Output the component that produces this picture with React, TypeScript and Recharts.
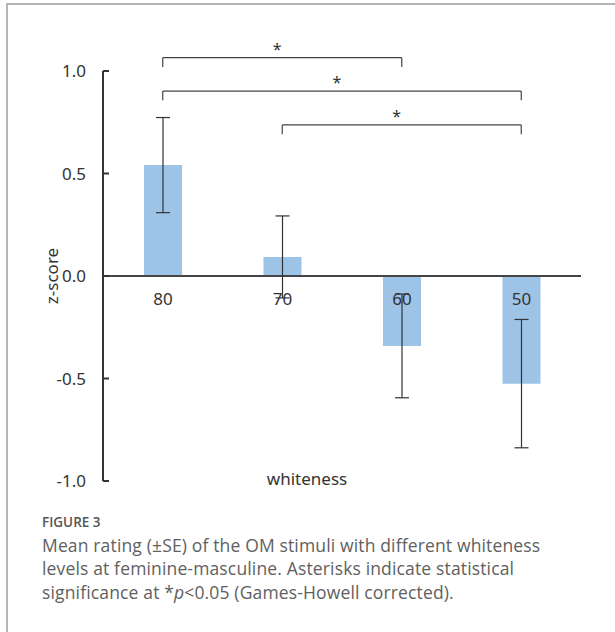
import { BarChart, Bar, XAxis, YAxis, ReferenceLine, ErrorBar, LabelList } from 'recharts'

const whiteness = ['80', '70', '60', '50']
const meanScores = [0.541, 0.093, -0.341, -0.525]
const standardErrors = [0.232, 0.2, 0.253, 0.313]
const yTicks = [-1, -0.5, 0, 0.5, 1]

// significance brackets: pair of groups and height (in z-score units)
const bracketFrom = ['80', '80', '70']
const bracketTo = ['60', '50', '50']
const bracketLevel = [1.065, 0.902, 0.737]
const bracketMark = ['*', '*', '*']

const data = whiteness.map((w, i) => ({
    whiteness: w,
    score: meanScores[i],
    se: standardErrors[i],
}))

const FONT = '"Noto Sans", sans-serif'
const LEG = 0.045

function BaselineLabel(props: any) {
    const vb = props.viewBox ?? props
    const { x, y, width, height } = vb
    const score = meanScores[props.index] ?? 0
    const base = score >= 0 ? Math.max(y, y + height) : Math.min(y, y + height)
    return (
        <text
            x={x + width / 2}
            y={base + 29}
            textAnchor="middle"
            fontSize={17}
            fill="#333"
            fontFamily={FONT}
        >
            {props.value}
        </text>
    )
}

export default function App() {
    return (
        <div
            style={{
                position: 'absolute',
                left: 0,
                top: 0,
                width: 615,
                height: 632,
                background: '#fff',
                overflow: 'hidden',
            }}
        >
            <div
                style={{
                    position: 'absolute',
                    left: 6,
                    top: 3,
                    width: 620,
                    height: 640,
                    borderTop: '2px solid #b4b4b4',
                    borderLeft: '2px solid #b4b4b4',
                }}
            />
            <div style={{ position: 'absolute', left: 0, top: 0 }}>
                <BarChart
                    width={615}
                    height={500}
                    data={data}
                    margin={{ top: 71, right: 34, left: 0, bottom: 0 }}
                    barSize={38}
                >
                    <XAxis
                        dataKey="whiteness"
                        height={19}
                        axisLine={false}
                        tickLine={false}
                        tick={false}
                        label={{
                            value: 'whiteness',
                            position: 'insideTop',
                            offset: -8,
                            dx: -35,
                            fontSize: 17,
                            fill: '#333',
                            fontFamily: FONT,
                        }}
                    />
                    <YAxis
                        width={103}
                        domain={[-1, 1]}
                        ticks={yTicks}
                        tickFormatter={(v: number) => v.toFixed(1)}
                        axisLine={{ stroke: '#333', strokeWidth: 2 }}
                        tickLine={{ stroke: '#333', strokeWidth: 2 }}
                        tickSize={-6}
                        tickMargin={23}
                        tick={{ fontSize: 17, fill: '#333', fontFamily: FONT }}
                        label={{
                            value: 'z-score',
                            angle: -90,
                            position: 'center',
                            fontSize: 17,
                            fill: '#333',
                            fontFamily: FONT,
                        }}
                    />
                    <ReferenceLine y={0} stroke="#444" strokeWidth={2} />
                    <Bar dataKey="score" fill="#9dc3e6" isAnimationActive={false}>
                        <LabelList dataKey="whiteness" content={BaselineLabel} />
                        <ErrorBar dataKey="se" width={7} stroke="#333" strokeWidth={1.2} />
                    </Bar>
                    {bracketLevel.map((lvl, i) => (
                        <ReferenceLine
                            key={'top' + i}
                            segment={[
                                { x: bracketFrom[i], y: lvl },
                                { x: bracketTo[i], y: lvl },
                            ]}
                            ifOverflow="visible"
                            stroke="#444"
                            strokeWidth={1.2}
                            label={{
                                value: bracketMark[i],
                                position: 'top',
                                offset: 3,
                                dx: -5,
                                fontSize: 16,
                                fill: '#333',
                                fontFamily: FONT,
                            }}
                        />
                    ))}
                    {bracketLevel.map((lvl, i) => (
                        <ReferenceLine
                            key={'l' + i}
                            segment={[
                                { x: bracketFrom[i], y: lvl },
                                { x: bracketFrom[i], y: lvl - LEG },
                            ]}
                            ifOverflow="visible"
                            stroke="#444"
                            strokeWidth={1.2}
                        />
                    ))}
                    {bracketLevel.map((lvl, i) => (
                        <ReferenceLine
                            key={'r' + i}
                            segment={[
                                { x: bracketTo[i], y: lvl },
                                { x: bracketTo[i], y: lvl - LEG },
                            ]}
                            ifOverflow="visible"
                            stroke="#444"
                            strokeWidth={1.2}
                        />
                    ))}
                </BarChart>
            </div>
            <div
                style={{
                    position: 'absolute',
                    left: 42,
                    top: 513,
                    fontFamily: '"Open Sans", sans-serif',
                    fontWeight: 600,
                    fontSize: 13.5,
                    color: '#555',
                }}
            >
                FIGURE 3
            </div>
            <div
                style={{
                    position: 'absolute',
                    left: 42,
                    top: 534,
                    width: 570,
                    fontFamily: '"Open Sans", sans-serif',
                    fontSize: 17.5,
                    letterSpacing: 0.15,
                    lineHeight: '23.3px',
                    color: '#606060',
                    whiteSpace: 'nowrap',
                }}
            >
                Mean rating (±SE) of the OM stimuli with different whiteness
                <br />
                levels at feminine-masculine. Asterisks indicate statistical
                <br />
                significance at *<i>p</i>&lt;0.05 (Games-Howell corrected).
            </div>
        </div>
    )
}
